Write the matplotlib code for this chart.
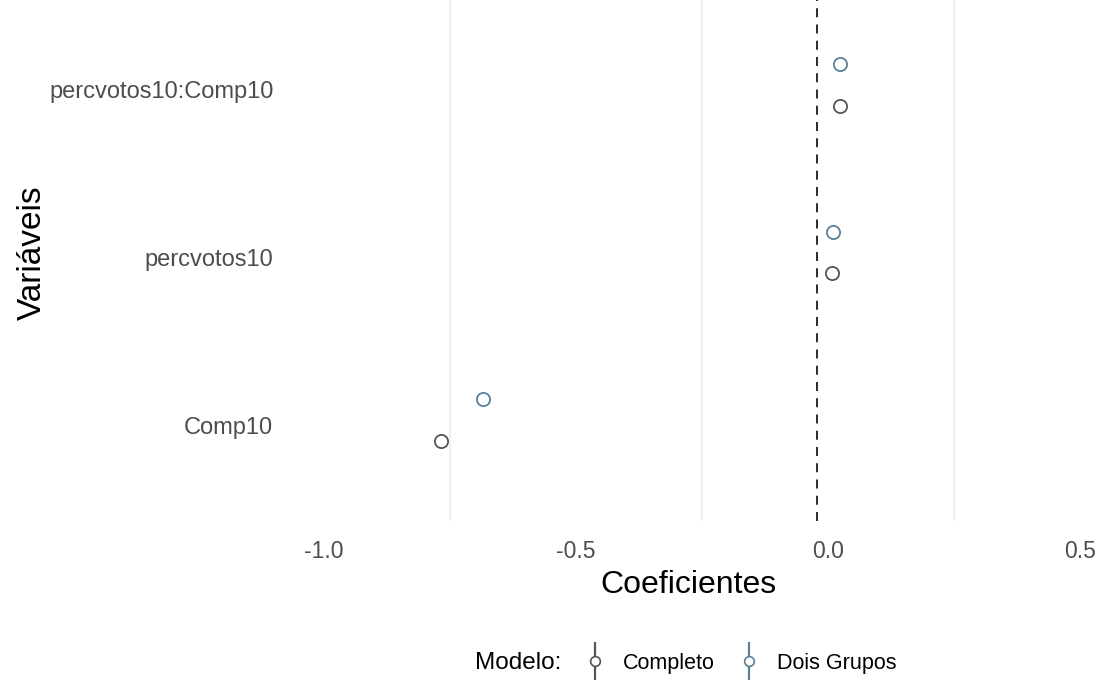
import matplotlib
matplotlib.use("Agg")
import matplotlib.pyplot as plt
import matplotlib.transforms as mtransforms
from matplotlib.lines import Line2D
from matplotlib.legend_handler import HandlerTuple
from matplotlib.offsetbox import HPacker

plt.rcParams['font.family'] = ['Liberation Sans', 'DejaVu Sans']

variaveis = ['Comp10', 'percvotos10', 'percvotos10:Comp10']
modelos = ['Completo', 'Dois Grupos']
coef_completo = [-0.768, 0.008, 0.024]
coef_dois = [-0.685, 0.010, 0.024]
cores = {'Completo': '#555555', 'Dois Grupos': '#5b8099'}
xticks = [-1.0, -0.5, 0.0, 0.5]
xticklabels = ['-1.0', '-0.5', '0.0', '0.5']
grid_x = [-0.75, -0.25, 0.25]
linha_zero = -0.022

fig = plt.figure(figsize=(11, 6.88), dpi=100)
ax = fig.add_axes([290 / 1100, 167 / 688, 810 / 1100, 537 / 688])

for g in grid_x:
    ax.axvline(g, color='#ebebeb', lw=1.2, zorder=0)
ax.axvline(linha_zero, color='#1a1a1a', lw=1.3, ls=(0, (5, 4)), zorder=1)

pos = range(1, len(variaveis) + 1)
ax.plot(coef_completo, [p - 0.125 for p in pos], 'o', ms=9.5, mfc='white',
        mec=cores['Completo'], mew=1.3, ls='none', zorder=3)
ax.plot(coef_dois, [p + 0.125 for p in pos], 'o', ms=9.5, mfc='white',
        mec=cores['Dois Grupos'], mew=1.3, ls='none', zorder=3)

ax.set_xlim(-1.0675, 0.5397)
ax.set_ylim(0.4, 3.6)
ax.set_xticks(xticks)
ax.set_xticklabels(xticklabels)
ax.set_yticks(list(pos))
ax.set_yticklabels(variaveis)
ax.tick_params(length=0, labelsize=16.5, labelcolor='#4d4d4d')
ax.tick_params(axis='x', pad=14)
ax.tick_params(axis='y', pad=12, labelsize=17)
desce = mtransforms.ScaledTranslation(0, -5 / 100, fig.dpi_scale_trans)
for lbl in ax.get_yticklabels():
    lbl.set_transform(lbl.get_transform() + desce)
for s in ax.spines.values():
    s.set_visible(False)

fig.text(688 / 1100, 1 - 585 / 688, 'Coeficientes', fontsize=23,
         ha='center', va='center')
fig.text(32 / 1100, 1 - 253 / 688, 'Variáveis', rotation=90, fontsize=24,
         ha='center', va='center')

handles = []
for m in modelos:
    barra = Line2D([], [], marker='|', ms=28, mew=1.6, color=cores[m], ls='none')
    ponto = Line2D([], [], marker='o', ms=7, mfc='white', mec=cores[m], mew=1.2, ls='none')
    handles.append((barra, ponto))
leg = fig.legend(handles, modelos, handler_map={tuple: HandlerTuple(ndivide=1)},
                 loc='center', bbox_to_anchor=(686 / 1100, 1 - 663 / 688), ncol=2,
                 frameon=False, fontsize=15.5, title='Modelo:', title_fontsize=17.5,
                 handlelength=1.0, handletextpad=0.8, columnspacing=1.1)
# titulo na mesma linha das entradas
leg._legend_box._children = [HPacker(pad=0, sep=16,
                                     children=[leg._legend_title_box, leg._legend_handle_box],
                                     align='center')]

fig.savefig('out.png', dpi=100)
